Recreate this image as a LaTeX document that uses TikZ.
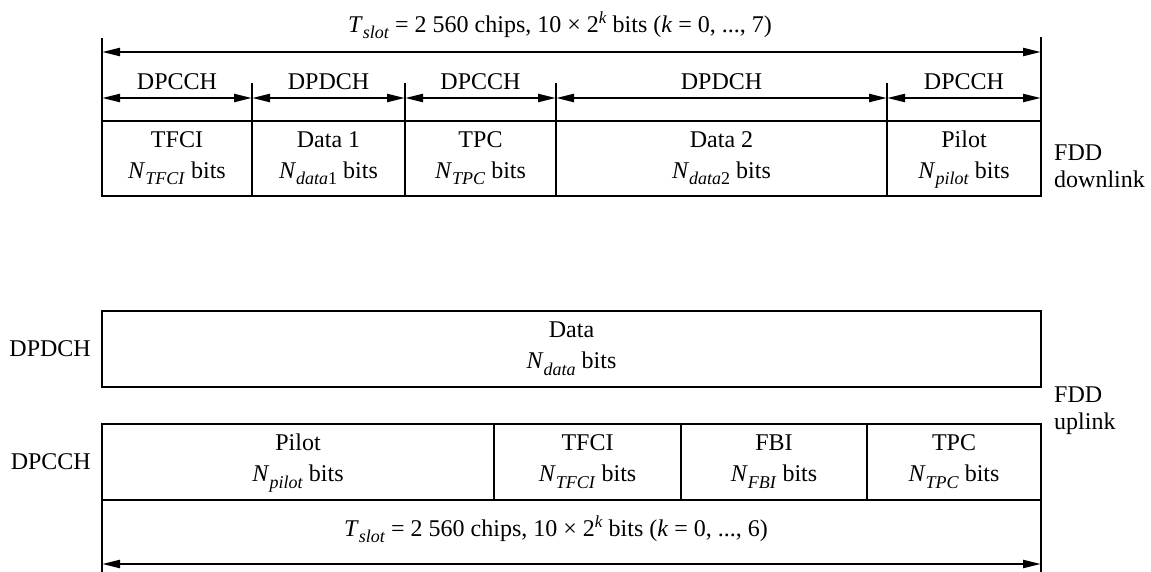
\documentclass[tikz,border=0pt]{standalone}
\usepackage{fontspec}
\setmainfont{Liberation Serif}
\usetikzlibrary{arrows.meta, positioning}
\definecolor{slotLine}{HTML}{000000}
\newcommand{\lowsub}[1]{\raisebox{-6.5pt}{\fontsize{18}{20}\selectfont#1}}
\newcommand{\highsup}[1]{\raisebox{9pt}{\fontsize{17}{20}\selectfont#1}}
\newcommand{\Nsub}[1]{\textit{N}\lowsub{#1}}
\tikzset{
  field/.style={rectangle, draw=slotLine, line width=1.4pt, outer sep=0pt, inner sep=0pt,
                minimum height=75pt, align=center, text height=47pt, text depth=8pt},
  chanlabel/.style={inner sep=0pt},
  duplex/.style={anchor=west, align=left, inner sep=0pt, font=\fontsize{24}{27}\selectfont},
  bar/.style={slotLine, line width=2.4pt},
  tick/.style={slotLine, line width=2pt},
  dimarrow/.style={{Triangle[length=18pt, width=8pt]}-{Triangle[length=18pt, width=8pt]},
                   slotLine, line width=2.3pt},
}
\begin{document}
\begin{tikzpicture}[x=1pt, y=-1pt, font=\fontsize{24}{31}\selectfont]
    \useasboundingbox (0,0) rectangle (1151,571);
    % FDD downlink slot
    \node[field, minimum width=150pt, anchor=north west] (dtfci) at (102,121)
         {TFCI\\\Nsub{\textit{TFCI}} bits};
    \node[field, minimum width=153pt, right=0pt of dtfci] (ddata1)
         {Data 1\\\Nsub{\textit{data}1} bits};
    \node[field, minimum width=151pt, right=0pt of ddata1] (dtpc)
         {TPC\\\Nsub{\textit{TPC}} bits};
    \node[field, minimum width=331pt, right=0pt of dtpc] (ddata2)
         {Data 2\\\Nsub{\textit{data}2} bits};
    \node[field, minimum width=154pt, right=0pt of ddata2] (dpilot)
         {Pilot\\\Nsub{\textit{pilot}} bits};
    \node[duplex] (fdddown) at (1054,166) {FDD\\downlink};
    \draw[bar] (dtfci.north west) -- ++(0,-83);
    \draw[bar] (dpilot.north east) -- ++(0,-84);
    \foreach \f in {ddata1, dtpc, ddata2, dpilot}
      \draw[tick] (\f.north west) -- ++(0,-38);
    \node[anchor=base] (tslotdown) at (560,32)
         {\textit{T}\lowsub{\textit{slot}} = 2 560 chips, 10 × 2\highsup{\textit{k}} bits (\textit{k} = 0, ..., 7)};
    \draw[dimarrow] ([yshift=69pt]dtfci.north west) -- ([yshift=69pt]dpilot.north east);
    \draw[dimarrow] ([yshift=23pt]dtfci.north west) -- node[above=7pt, inner sep=0pt] {DPCCH} ([yshift=23pt]dtfci.north east);
    \draw[dimarrow] ([yshift=23pt]ddata1.north west) -- node[above=7pt, inner sep=0pt] {DPDCH} ([yshift=23pt]ddata1.north east);
    \draw[dimarrow] ([yshift=23pt]dtpc.north west) -- node[above=7pt, inner sep=0pt] {DPCCH} ([yshift=23pt]dtpc.north east);
    \draw[dimarrow] ([yshift=23pt]ddata2.north west) -- node[above=7pt, inner sep=0pt] {DPDCH} ([yshift=23pt]ddata2.north east);
    \draw[dimarrow] ([yshift=23pt]dpilot.north west) -- node[above=7pt, inner sep=0pt] {DPCCH} ([yshift=23pt]dpilot.north east);
    % FDD uplink slot
    \node[field, minimum width=939pt, minimum height=76pt, anchor=north west] (udata) at (102,311)
         {Data\\\Nsub{\textit{data}} bits};
    \node[field, minimum width=392pt, minimum height=76pt, anchor=north west] (upilot) at (102,424)
         {Pilot\\\Nsub{\textit{pilot}} bits};
    \node[field, minimum width=187pt, minimum height=76pt, right=0pt of upilot] (utfci)
         {TFCI\\\Nsub{\textit{TFCI}} bits};
    \node[field, minimum width=186pt, minimum height=76pt, right=0pt of utfci] (ufbi)
         {FBI\\\Nsub{\textit{FBI}} bits};
    \node[field, minimum width=174pt, minimum height=76pt, right=0pt of ufbi] (utpc)
         {TPC\\\Nsub{\textit{TPC}} bits};
    \node[chanlabel, left=11pt of udata] (ldpdch) {DPDCH};
    \node[chanlabel, left=11pt of upilot] (ldpcch) {DPCCH};
    \node[duplex] (fddup) at (1054,411) {FDD\\uplink};
    \draw[bar] (upilot.south west) -- ++(0,72);
    \draw[bar] (utpc.south east) -- ++(0,72);
    \node[anchor=base] (tslotup) at (556,536)
         {\textit{T}\lowsub{\textit{slot}} = 2 560 chips, 10 × 2\highsup{\textit{k}} bits (\textit{k} = 0, ..., 6)};
    \draw[dimarrow] ([yshift=-64pt]upilot.south west) -- ([yshift=-64pt]utpc.south east);
\end{tikzpicture}
\end{document}
